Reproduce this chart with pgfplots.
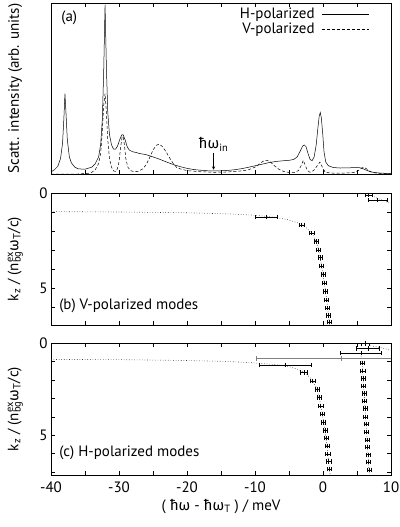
\documentclass[border=0pt]{standalone}
\usepackage{fontspec}
\setmainfont{PT Sans}
\newfontfamily\gr{Fira Sans}
\usepackage{pgfplots}
\pgfplotsset{compat=1.18}

\newcommand{\hw}{{\gr ħω}}
\newcommand{\kzlabel}{k\textsubscript{z} / (n\rlap{\textsuperscript{ex}}\textsubscript{bg}{\gr ω}\textsubscript{T}/c)}
\newcommand{\fs}{\fontsize{15}{17}\selectfont}

\pgfplotsset{
  panel/.style={
    scale only axis, width=340pt, anchor=north west,
    xmin=-40, xmax=10, xtick={-40,-30,...,10}, minor x tick num=1,
    tick align=inside, major tick length=4pt, minor tick length=4pt,
    axis line style={line width=0.8pt},
    every tick/.style={line width=0.6pt},
    font=\fs, tick label style={font=\fs}, label style={font=\fs},
    /pgf/number format/assume math mode=true,
  },
  modes/.style={
    panel, height=132pt, y dir=reverse, ymin=0,
    ytick={0,5}, minor ytick={1,2,3,4,6,7},
    xticklabels={},
    ylabel={\kzlabel},
    ylabel style={at={(axis description cs:-0.105,0.5)}, anchor=center},
  },
  pts/.style={only marks, mark=|, mark size=2.2pt, black, line width=0.45pt,
    error bars/x dir=both, error bars/x explicit,
    error bars/error bar style={line width=0.45pt},
    error bars/error mark options={rotate=90, mark size=2.2pt, line width=0.45pt}},
  model/.style={dotted, black!80, line width=0.6pt, no marks},
}

\begin{document}
\begin{tikzpicture}
\path[use as bounding box] (-51pt,3pt) rectangle (348pt,-524pt);

% (a) spectra
\begin{axis}[panel, at={(0,0)}, height=171pt,
  ymin=0, ymax=1, ytick=\empty, xticklabels={},
  ylabel={Scatt. intensity (arb. units)},
  ylabel style={at={(axis description cs:-0.105,0.5)}, anchor=center},
  legend plot pos=right, legend cell align=right,
  legend style={draw=none, fill=none, at={(0.945,0.995)}, anchor=north east,
    row sep=-1pt, column sep=5pt, font=\fs},
  legend image code/.code={\draw[#1] (0cm,0cm) -- (1.65cm,0cm);},
]
\addplot[black, line width=0.5pt] coordinates {
(-40,0.012) (-39.5,0.025) (-39,0.045) (-38.6,0.09) (-38.3,0.18) (-38.1,0.33)
(-37.95,0.47) (-37.8,0.36) (-37.6,0.2) (-37.3,0.1) (-37.0,0.065) (-36.5,0.04)
(-36.0,0.03) (-35.0,0.028) (-34.0,0.04) (-33.5,0.06) (-33.0,0.1) (-32.7,0.17)
(-32.45,0.32) (-32.25,0.6) (-32.05,0.99) (-31.85,0.62) (-31.65,0.36) (-31.4,0.23)
(-31.1,0.17) (-30.8,0.145) (-30.5,0.145) (-30.2,0.165) (-29.9,0.2) (-29.6,0.228)
(-29.4,0.23) (-29.1,0.2) (-28.8,0.16) (-28.5,0.14) (-28.0,0.13) (-27.5,0.126)
(-27.0,0.12) (-26.0,0.113) (-25.0,0.1) (-24.0,0.086) (-23.0,0.07) (-22.0,0.055)
(-21.0,0.043) (-20.0,0.033) (-19.0,0.026) (-18.0,0.022) (-17.0,0.019) (-16.0,0.018)
(-15.0,0.019) (-14.0,0.021) (-13.0,0.025) (-12.0,0.031) (-11.0,0.039) (-10.0,0.048)
(-9.0,0.057) (-8.0,0.066) (-7.0,0.073) (-6.0,0.077) (-5.0,0.08) (-4.3,0.085)
(-3.8,0.1) (-3.4,0.13) (-3.0,0.163) (-2.75,0.17) (-2.5,0.16) (-2.2,0.12)
(-1.9,0.085) (-1.6,0.078) (-1.3,0.1) (-1.0,0.17) (-0.75,0.27) (-0.55,0.34)
(-0.4,0.36) (-0.25,0.33) (-0.05,0.24) (0.15,0.13) (0.4,0.07) (0.8,0.048)
(1.5,0.038) (2.5,0.035) (3.5,0.036) (4.5,0.037) (5.2,0.038) (5.7,0.034)
(6.2,0.025) (6.8,0.016) (7.5,0.009) (8.5,0.005) (10,0.003)
};
\addlegendentry{H-polarized}
\addplot[black, line width=0.5pt, dash pattern=on 3pt off 2pt] coordinates {
(-40,0.0) (-36,0.0) (-34.5,0.004) (-34.0,0.01) (-33.5,0.025) (-33.0,0.06)
(-32.7,0.12) (-32.45,0.25) (-32.25,0.4) (-32.05,0.47) (-31.85,0.36) (-31.65,0.2)
(-31.4,0.09) (-31.1,0.04) (-30.8,0.018) (-30.5,0.015) (-30.25,0.03) (-30.0,0.07)
(-29.75,0.16) (-29.55,0.215) (-29.4,0.22) (-29.2,0.17) (-29.0,0.09) (-28.7,0.04)
(-28.3,0.02) (-27.8,0.014) (-27.2,0.015) (-26.5,0.03) (-26.0,0.055) (-25.5,0.095)
(-25.0,0.14) (-24.5,0.168) (-24.1,0.175) (-23.6,0.16) (-23.0,0.125) (-22.5,0.09)
(-22.0,0.06) (-21.5,0.038) (-21.0,0.03) (-20.0,0.02) (-18.0,0.013) (-16.0,0.01)
(-14.0,0.012) (-12.0,0.018) (-11.0,0.024) (-10.0,0.04) (-9.3,0.06) (-8.8,0.075)
(-8.3,0.08) (-7.8,0.073) (-7.2,0.05) (-6.5,0.028) (-5.8,0.015) (-5.0,0.009)
(-4.2,0.009) (-3.6,0.02) (-3.2,0.05) (-2.9,0.08) (-2.6,0.05) (-2.3,0.02)
(-1.9,0.01) (-1.4,0.02) (-0.9,0.045) (-0.45,0.07) (-0.1,0.04) (0.3,0.012)
(1.0,0.006) (3.0,0.005) (4.5,0.008) (5.2,0.02) (5.7,0.035) (6.0,0.04)
(6.4,0.03) (7.0,0.012) (8.0,0.004) (10,0.001)
};
\addlegendentry{V-polarized}
\node[anchor=north west] at (rel axis cs:0.02,0.975) {(a)};
\node[anchor=south, inner sep=1pt] at (axis cs:-16.1,0.125) {\hw\textsubscript{in}};
\draw[-stealth, line width=0.5pt] (axis cs:-16.1,0.125) -- (axis cs:-16.1,0.025);
\end{axis}

% (b) V-polarized modes
\begin{axis}[modes, at={(0,-190pt)}, ymax=6.95]
\addplot[model] coordinates {
(-40,0.98) (-30,1.0) (-20,1.04) (-14,1.1) (-10,1.17) (-7,1.28) (-5,1.42)
(-3.5,1.6) (-2.4,1.85) (-1.6,2.15) (-1,2.55) (-0.65,3.0) (-0.2,3.85)
(0.2,4.75) (0.55,5.6) (0.8,6.45) (0.98,6.95)
};
\addplot[model] coordinates {(7.5,0.2) (8.5,0.35) (10,0.55)};
\addplot[pts] coordinates {
(-8.4,1.25) +- (1.6,0)
(-3.13,1.68) +- (0.4,0)
(-1.66,2.12) +- (0.35,0)
(-1.03,2.56) +- (0.3,0)
(-0.69,3.0) +- (0.3,0)
(-0.44,3.4) +- (0.3,0)
(-0.2,3.84) +- (0.3,0)
(0.04,4.3) +- (0.3,0)
(0.19,4.75) +- (0.3,0)
(0.34,5.19) +- (0.3,0)
(0.54,5.63) +- (0.3,0)
(0.63,6.07) +- (0.3,0)
(0.78,6.46) +- (0.3,0)
(0.93,6.8) +- (0.3,0)
(6.7,0.1) +- (0.5,0)
(8.0,0.37) +- (1.4,0)
};
\node[anchor=west] at (axis cs:-39.3,5.95) {(b) V-polarized modes};
\end{axis}

% (c) H-polarized modes
\begin{axis}[modes, at={(0,-340pt)}, ymax=7.15,
  xticklabels={-40,-30,-20,-10,0,10},
  xticklabel style={yshift=-3pt},
  xlabel={( \hw\ - \hw\textsubscript{T} ) / meV},
]
\addplot[model] coordinates {
(-40,0.89) (-30,0.9) (-20,0.95) (-14,1.0) (-10,1.08) (-7,1.17) (-5,1.28)
(-3.5,1.45) (-2.5,1.65) (-1.6,2.0) (-1.0,2.4) (-0.6,2.9) (-0.3,3.4)
(0.1,4.3) (0.45,5.2) (0.7,6.0) (0.95,6.85) (1.05,7.15)
};
\addplot[model] coordinates {
(5.55,0.55) (5.76,1.07) (5.98,2.34) (6.26,4.0) (6.55,5.64) (6.8,7.15)
};
\addplot[model] coordinates {(7.0,0.15) (8.5,0.25) (10,0.4)};
\addplot[pts] coordinates {
(-5.55,1.2) +- (3.85,0)
(-2.79,1.6) +- (0.5,0)
(-1.53,2.05) +- (0.35,0)
(-0.84,2.52) +- (0.3,0)
(-0.59,2.95) +- (0.3,0)
(-0.34,3.41) +- (0.3,0)
(-0.1,3.86) +- (0.3,0)
(0.1,4.31) +- (0.3,0)
(0.29,4.73) +- (0.3,0)
(0.44,5.15) +- (0.3,0)
(0.59,5.58) +- (0.3,0)
(0.69,6.0) +- (0.3,0)
(0.84,6.41) +- (0.3,0)
(0.93,6.83) +- (0.3,0)
(6.2,0.03) +- (0.6,0)
(6.6,0.3) +- (1.7,0)
(5.55,0.55) +- (3.05,0)
(5.76,1.07) +- (0.3,0)
(5.84,1.52) +- (0.3,0)
(5.91,1.92) +- (0.3,0)
(5.98,2.34) +- (0.3,0)
(6.05,2.74) +- (0.3,0)
(6.12,3.15) +- (0.3,0)
(6.19,3.55) +- (0.3,0)
(6.26,4.0) +- (0.3,0)
(6.33,4.4) +- (0.3,0)
(6.4,4.82) +- (0.3,0)
(6.47,5.24) +- (0.3,0)
(6.55,5.64) +- (0.3,0)
(6.62,6.05) +- (0.3,0)
(6.69,6.45) +- (0.3,0)
(6.77,6.87) +- (0.3,0)
};
\addplot[pts, gray, error bars/error bar style={gray, line width=0.6pt}] coordinates {
(2.65,0.84) +- (12.5,0)
};
\node[anchor=west] at (axis cs:-39.3,5.96) {(c) H-polarized modes};
\end{axis}
\end{tikzpicture}
\end{document}
